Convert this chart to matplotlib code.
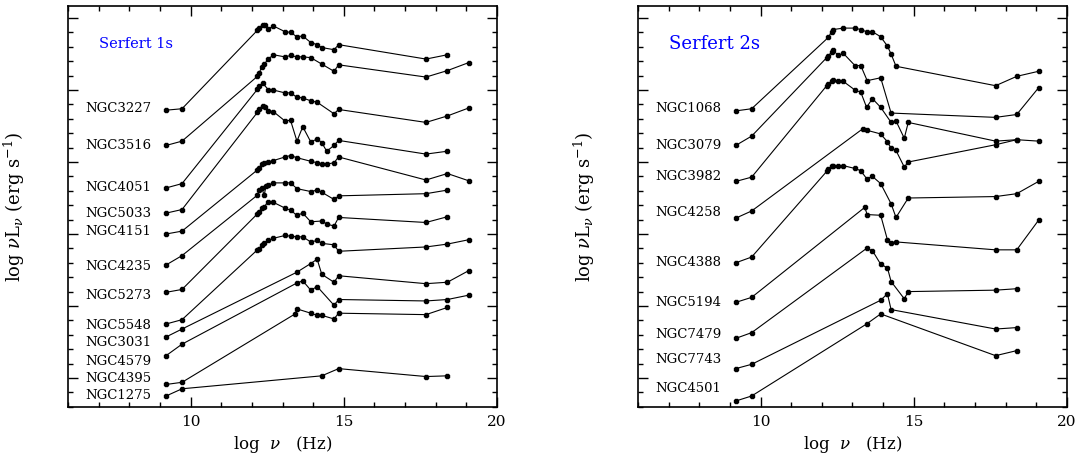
import matplotlib
matplotlib.use("Agg")
import matplotlib.pyplot as plt
from matplotlib.ticker import MultipleLocator

plt.rcParams['font.family'] = 'DejaVu Serif'
plt.rcParams['mathtext.fontset'] = 'dejavuserif'

# Seyfert 1 galaxies (left panel)
sy1_names = ['NGC3227', 'NGC3516', 'NGC4051', 'NGC5033', 'NGC4151', 'NGC4235',
             'NGC5273', 'NGC5548', 'NGC3031', 'NGC4579', 'NGC4395', 'NGC1275']
sy1_lognu = [
    [9.20, 9.72, 12.18, 12.23, 12.35, 12.43, 12.54, 12.70, 13.08, 13.26, 13.47, 13.66, 13.92, 14.13, 14.28, 14.68, 14.83, 17.68, 18.38],
    [9.20, 9.72, 12.18, 12.23, 12.32, 12.40, 12.54, 12.70, 13.08, 13.26, 13.47, 13.66, 13.92, 14.28, 14.68, 14.83, 17.68, 18.38, 19.07],
    [9.20, 9.72, 12.18, 12.23, 12.35, 12.54, 12.70, 13.08, 13.26, 13.47, 13.66, 13.92, 14.13, 14.68, 14.83, 17.68, 18.38, 19.07],
    [9.20, 9.72, 12.18, 12.23, 12.35, 12.43, 12.54, 12.70, 13.08, 13.26, 13.47, 13.66, 13.92, 14.13, 14.28, 14.44, 14.68, 14.83, 17.68, 18.38],
    [9.20, 9.72, 12.18, 12.23, 12.32, 12.40, 12.54, 12.70, 13.08, 13.26, 13.47, 13.92, 14.13, 14.28, 14.44, 14.68, 14.83, 17.68, 18.38, 19.07],
    [9.20, 9.72, 12.18, 12.23, 12.32, 12.40, 12.46, 12.54, 12.70, 13.08, 13.26, 13.47, 13.92, 14.13, 14.28, 14.68, 14.83, 17.68, 18.38],
    [9.20, 9.72, 12.18, 12.23, 12.32, 12.40, 12.54, 12.70, 13.08, 13.26, 13.47, 13.66, 13.92, 14.28, 14.44, 14.68, 14.83, 17.68, 18.38],
    [9.20, 9.72, 12.18, 12.23, 12.32, 12.40, 12.54, 12.70, 13.08, 13.26, 13.47, 13.66, 13.92, 14.13, 14.28, 14.68, 14.83, 17.68, 18.38, 19.07],
    [9.20, 9.72, 13.47, 13.92, 14.13, 14.28, 14.68, 14.83, 17.68, 18.38, 19.07],
    [9.20, 9.72, 13.47, 13.66, 13.92, 14.13, 14.68, 14.83, 17.68, 18.38, 19.07],
    [9.20, 9.72, 13.41, 13.47, 13.92, 14.13, 14.28, 14.68, 14.83, 17.68, 18.38],
    [9.20, 9.72, 14.28, 14.83, 17.68, 18.38],
]
sy1_lognuL = [
    [3.72, 3.74, 4.83, 4.86, 4.91, 4.90, 4.85, 4.89, 4.81, 4.80, 4.74, 4.75, 4.66, 4.63, 4.59, 4.56, 4.63, 4.43, 4.49],
    [3.23, 3.29, 4.19, 4.23, 4.32, 4.36, 4.43, 4.49, 4.46, 4.48, 4.46, 4.46, 4.45, 4.36, 4.26, 4.35, 4.18, 4.27, 4.38],
    [2.64, 2.70, 4.01, 4.05, 4.10, 4.00, 4.00, 3.96, 3.96, 3.90, 3.89, 3.85, 3.83, 3.67, 3.73, 3.55, 3.64, 3.75],
    [2.29, 2.34, 3.69, 3.74, 3.78, 3.77, 3.71, 3.70, 3.57, 3.58, 3.29, 3.49, 3.28, 3.32, 3.27, 3.15, 3.23, 3.30, 3.11, 3.15],
    [2.00, 2.04, 2.89, 2.92, 2.97, 2.98, 3.00, 3.02, 3.07, 3.09, 3.06, 3.01, 2.99, 2.97, 2.97, 2.99, 3.07, 2.75, 2.84, 2.74],
    [1.57, 1.70, 2.54, 2.61, 2.64, 2.54, 2.66, 2.68, 2.71, 2.71, 2.71, 2.63, 2.59, 2.61, 2.58, 2.48, 2.53, 2.56, 2.61],
    [1.19, 1.23, 2.28, 2.31, 2.36, 2.38, 2.45, 2.44, 2.36, 2.33, 2.26, 2.29, 2.17, 2.18, 2.14, 2.11, 2.23, 2.16, 2.24],
    [0.75, 0.81, 1.78, 1.79, 1.85, 1.88, 1.91, 1.94, 1.98, 1.97, 1.96, 1.96, 1.89, 1.91, 1.87, 1.85, 1.76, 1.82, 1.86, 1.92],
    [0.57, 0.68, 1.47, 1.59, 1.65, 1.44, 1.33, 1.42, 1.31, 1.33, 1.49],
    [0.31, 0.47, 1.32, 1.35, 1.22, 1.27, 1.01, 1.09, 1.07, 1.09, 1.15],
    [-0.09, -0.06, 0.89, 0.96, 0.90, 0.87, 0.87, 0.82, 0.90, 0.88, 0.98],
    [-0.25, -0.15, 0.03, 0.13, 0.02, 0.03],
]

# Seyfert 2 galaxies (right panel)
sy2_names = ['NGC1068', 'NGC3079', 'NGC3982', 'NGC4258', 'NGC4388', 'NGC5194',
             'NGC7479', 'NGC7743', 'NGC4501']
sy2_lognu = [
    [9.19, 9.71, 12.21, 12.32, 12.37, 12.70, 13.08, 13.27, 13.46, 13.65, 13.92, 14.14, 14.26, 14.42, 17.67, 18.36, 19.07],
    [9.19, 9.71, 12.16, 12.21, 12.32, 12.37, 12.54, 12.70, 13.08, 13.27, 13.48, 13.92, 14.26, 17.67, 18.36, 19.07],
    [9.19, 9.71, 12.16, 12.21, 12.32, 12.37, 12.54, 12.70, 13.08, 13.27, 13.46, 13.65, 13.92, 14.26, 14.42, 14.69, 14.82, 17.67, 18.36, 19.07],
    [9.19, 9.71, 13.33, 13.48, 13.92, 14.14, 14.26, 14.42, 14.69, 14.82, 17.67, 18.36],
    [9.19, 9.71, 12.16, 12.21, 12.32, 12.37, 12.54, 12.70, 13.08, 13.27, 13.46, 13.65, 13.92, 14.26, 14.42, 14.82, 17.67, 18.36, 19.07],
    [9.19, 9.71, 13.40, 13.48, 13.92, 14.14, 14.26, 14.42, 17.67, 18.36, 19.07],
    [9.19, 9.71, 13.46, 13.65, 13.92, 14.14, 14.26, 14.69, 14.82, 17.67, 18.36],
    [9.19, 9.71, 13.92, 14.14, 14.26, 17.67, 18.36],
    [9.19, 9.71, 13.46, 13.92, 17.67, 18.36],
]
sy2_lognuL = [
    [3.71, 3.74, 4.73, 4.81, 4.84, 4.86, 4.86, 4.84, 4.81, 4.81, 4.74, 4.61, 4.50, 4.33, 4.06, 4.19, 4.26],
    [3.23, 3.36, 4.45, 4.47, 4.53, 4.55, 4.48, 4.51, 4.34, 4.34, 4.13, 4.17, 3.68, 3.62, 3.66, 4.03],
    [2.73, 2.79, 4.06, 4.08, 4.13, 4.14, 4.12, 4.12, 4.00, 3.97, 3.76, 3.88, 3.76, 3.55, 3.57, 3.33, 3.55, 3.29, 3.31, 3.29],
    [2.22, 2.32, 3.46, 3.44, 3.39, 3.28, 3.19, 3.16, 2.93, 3.00, 3.24, 3.31],
    [1.60, 1.68, 2.87, 2.90, 2.94, 2.94, 2.94, 2.95, 2.91, 2.88, 2.77, 2.80, 2.70, 2.42, 2.23, 2.50, 2.52, 2.56, 2.73],
    [1.05, 1.12, 2.37, 2.27, 2.26, 1.92, 1.88, 1.89, 1.78, 1.78, 2.19],
    [0.55, 0.63, 1.80, 1.77, 1.58, 1.53, 1.34, 1.10, 1.20, 1.22, 1.24],
    [0.13, 0.19, 1.08, 1.17, 0.95, 0.68, 0.70],
    [-0.32, -0.25, 0.75, 0.89, 0.31, 0.38],
]

# where the galaxy names sit (y in axis units)
sy1_label_y = [3.74, 3.23, 2.64, 2.28, 2.03, 1.55, 1.14, 0.73, 0.49, 0.23, -0.01, -0.24]
sy2_label_y = [3.74, 3.23, 2.80, 2.30, 1.60, 1.05, 0.61, 0.25, -0.14]

fig = plt.figure(figsize=(10.78, 4.55), dpi=100)
ax1 = fig.add_axes([0.0631, 0.1055, 0.398, 0.8813])
ax2 = fig.add_axes([0.5918, 0.1055, 0.398, 0.8813])


def draw_panel(ax, names, lognu, lognuL, label_y, title, title_size):
    for nu, lum in zip(lognu, lognuL):
        ax.plot(nu, lum, color='black', lw=0.8, marker='8', ms=3.6,
                mfc='black', mec='black')
    for name, y in zip(names, label_y):
        ax.text(6.55, y, name, fontsize=9.5, va='center', ha='left')
    ax.text(7.02, 4.64, title, color='blue', fontsize=title_size,
            va='center', ha='left')
    ax.set_xlim(6, 20)
    ax.set_ylim(-0.403, 5.167)
    ax.xaxis.set_major_locator(MultipleLocator(5))
    ax.xaxis.set_minor_locator(MultipleLocator(1))
    ax.yaxis.set_major_locator(MultipleLocator(1))
    ax.yaxis.set_minor_locator(MultipleLocator(0.2))
    ax.tick_params(which='both', direction='in', top=True, right=True,
                   width=1.0)
    ax.tick_params(which='major', length=7, labelsize=11, pad=6)
    ax.tick_params(which='minor', length=3.6)
    ax.set_yticklabels([])
    for s in ax.spines.values():
        s.set_linewidth(1.2)
    ax.set_xlabel(r'log  $\nu$   (Hz)', fontsize=12)
    ax.xaxis.set_label_coords(0.5, -0.068)
    ax.set_ylabel(r'log $\nu$L$_\nu$ (erg s$^{-1}$)', fontsize=13)
    ax.yaxis.set_label_coords(-0.095, 0.5)


draw_panel(ax1, sy1_names, sy1_lognu, sy1_lognuL, sy1_label_y, 'Serfert 1s', 10.5)
draw_panel(ax2, sy2_names, sy2_lognu, sy2_lognuL, sy2_label_y, 'Serfert 2s', 13)

fig.savefig('out.png', dpi=100)
